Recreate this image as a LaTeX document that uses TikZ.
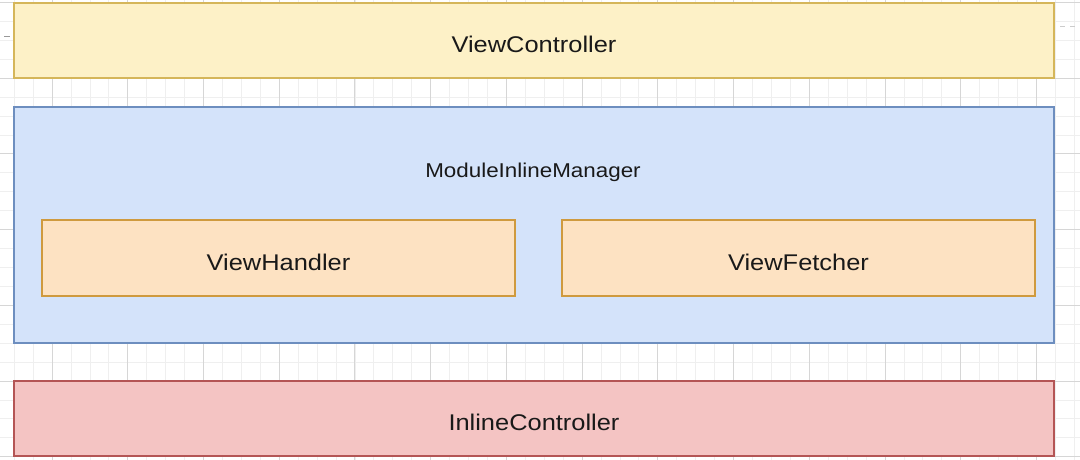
\documentclass[tikz,border=0pt]{standalone}
\usepackage{fontspec}
\setmainfont{Liberation Sans}[FakeStretch=1.12]
\usepackage{tikz}
\usetikzlibrary{positioning,calc}

\definecolor{vcfill}{HTML}{FDF1C7}
\definecolor{vcline}{HTML}{D5B65A}
\definecolor{mgrfill}{HTML}{D4E3FA}
\definecolor{mgrline}{HTML}{6D8EBF}
\definecolor{subfill}{HTML}{FDE2C2}
\definecolor{subline}{HTML}{CF9A3E}
\definecolor{icfill}{HTML}{F4C4C3}
\definecolor{icline}{HTML}{B45555}
\definecolor{gridminor}{HTML}{EFEFEF}
\definecolor{gridmajor}{HTML}{D6D6D6}

\tikzset{
    layerbox/.style={draw, line width=1.5pt, inner sep=0pt, text height=24pt, text depth=0pt,
        font=\fontsize{22.7}{27}\selectfont, text=black!90},
}

\begin{document}
\begin{tikzpicture}[x=1pt,y=-1pt]
    \useasboundingbox (0,0) rectangle (1080,460);
    \fill[white] (0,0) rectangle (1080,460);

    % background grid
    \foreach \k in {0,...,56} {
        \draw[gridminor,line width=0.6pt] (14.1+18.93*\k,0) -- ++(0,460);
    }
    \foreach \k in {0,...,24} {
        \draw[gridminor,line width=0.6pt] (0,2.3+18.93*\k) -- ++(1080,0);
    }
    \foreach \k in {0,...,13} {
        \draw[gridmajor,line width=0.7pt] (51.96+75.72*\k,0) -- ++(0,460);
    }
    \foreach \k in {0,...,6} {
        \draw[gridmajor,line width=0.7pt] (0,2.3+75.72*\k) -- ++(1080,0);
    }
    \draw[black!40,line width=1pt] (4,36.7) -- (10,36.7);
    \draw[black!20,line width=1pt,dash pattern=on 5pt off 5pt] (1060,27) -- (1075,27);

    % layers
    \node[layerbox, fill=vcfill, draw=vcline, minimum width=1040pt, minimum height=75pt]
        (viewctrl) at (534,40.5) {ViewController};
    \node[layerbox, fill=mgrfill, draw=mgrline, minimum width=1040pt, minimum height=236pt]
        (manager) at (534,225) {};
    \node[anchor=base, inner sep=0pt, font=\fontsize{20}{24}\selectfont, text=black!90]
        (mgrlabel) at (533,177.3) {ModuleInlineManager};
    \node[layerbox, fill=subfill, draw=subline, minimum width=473pt, minimum height=76pt]
        (handler) at (278.5,258) {ViewHandler};
    \node[layerbox, fill=subfill, draw=subline, minimum width=473pt, minimum height=76pt]
        (fetcher) at (798.5,258) {ViewFetcher};
    \node[layerbox, fill=icfill, draw=icline, minimum width=1040pt, minimum height=75pt]
        (inlinectrl) at (534,418.5) {InlineController};

\end{tikzpicture}
\end{document}
